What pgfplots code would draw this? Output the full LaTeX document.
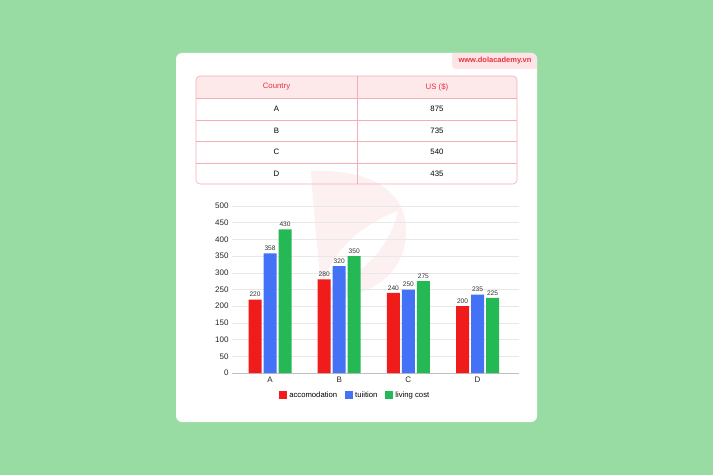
\documentclass[border=0pt]{standalone}
\usepackage{pgfplots}
\pgfplotsset{compat=1.18}
\usepackage{fontspec}
\setmainfont{Liberation Sans}

\definecolor{bg}{HTML}{98DBA3}
\definecolor{wmpink}{HTML}{FDE4E7}
\definecolor{wmred}{HTML}{E8323F}
\definecolor{hdr}{HTML}{FDE8EA}
\definecolor{tblline}{HTML}{F5AEB5}
\definecolor{cred}{HTML}{F01B1B}
\definecolor{cblue}{HTML}{4372F6}
\definecolor{cgreen}{HTML}{25B955}
\definecolor{gridc}{HTML}{E8E8E8}
\definecolor{logoc}{HTML}{FDF0F1}

\begin{document}
\begin{tikzpicture}[x=1pt,y=1pt]
% background + card
\fill[bg] (0,0) rectangle (713,475);
\fill[white, rounded corners=6pt] (176,53) rectangle (537,422);
% watermark tab
\begin{scope}
  \clip[rounded corners=6pt] (176,53) rectangle (537,422);
  \fill[wmpink, rounded corners=4pt] (452,406) rectangle (545,430);
\end{scope}
\node[font=\fontsize{7.5}{8}\selectfont\bfseries, text=wmred] at (495,414) {www.dolacademy.vn};
% faint logo
\fill[logoc] (311,304) .. controls (370,306) and (408,285) .. (406,240)
  .. controls (404,200) and (370,180) .. (330,175) -- (322,178)
  .. controls (318,220) and (314,260) .. (311,304) -- cycle;
\fill[white] (322,186) .. controls (332,230) and (368,252) .. (398,264)
  .. controls (390,228) and (360,196) .. (322,186) -- cycle;
% table
\begin{scope}
  \clip[rounded corners=4pt] (196,291) rectangle (517,399);
  \fill[hdr] (196,377) rectangle (517,399);
\end{scope}
\draw[tblline, line width=0.6pt, rounded corners=4pt] (196,291) rectangle (517,399);
\draw[tblline, line width=0.6pt] (196,377) -- (517,377) (196,355) -- (517,355)
  (196,334) -- (517,334) (196,312) -- (517,312) (357,291) -- (357,399);
\begin{scope}[every node/.style={font=\fontsize{7.8}{8}\selectfont}]
  \node[text=wmred] at (276.5,388) {Country};
  \node[text=wmred] at (437,388) {US (\$)};
  \node at (276.5,366) {A};   \node at (437,366) {875};
  \node at (276.5,344.5) {B}; \node at (437,344.5) {735};
  \node at (276.5,323) {C};   \node at (437,323) {540};
  \node at (276.5,301.5) {D}; \node at (437,301.5) {435};
\end{scope}

\coordinate (O) at (232,102);
\begin{axis}[
  at={(O)}, anchor=south west,
  scale only axis, width=287pt, height=167pt,
  ybar=2pt, bar width=13pt,
  xmin=-0.55, xmax=3.6, ymin=0, ymax=500,
  xtick=data, xticklabels={A,B,C,D},
  ytick={0,50,...,500},
  axis line style={draw=none},
  major tick length=0,
  ymajorgrids, grid style={gridc, line width=0.5pt},
  ticklabel style={font=\fontsize{8}{9}\selectfont, text=black!85},
  /pgf/number format/assume math mode=true,
  nodes near coords,
  every node near coord/.append style={font=\fontsize{6.6}{7}\selectfont, text=black!80, yshift=-1pt},
  legend style={draw=none, fill=none, inner sep=0pt,
    at={(axis description cs:0.164,-0.132)}, anchor=west,
    font=\fontsize{7.7}{8}\selectfont, legend columns=3,
    /tikz/every even column/.append style={column sep=6pt}},
  legend image code/.code={\fill[#1] (0pt,-4pt) rectangle (8pt,4pt);},
  legend cell align=left,
]
\draw[black!25, line width=0.6pt] (rel axis cs:0,0) -- (rel axis cs:1,0);
\addplot[fill=cred, draw=none] coordinates {(0,220) (1,280) (2,240) (3,200)};
\addplot[fill=cblue, draw=none] coordinates {(0,358) (1,320) (2,250) (3,235)};
\addplot[fill=cgreen, draw=none] coordinates {(0,430) (1,350) (2,275) (3,225)};
\legend{accomodation, tuiition, living cost}
\end{axis}
\end{tikzpicture}
\end{document}
